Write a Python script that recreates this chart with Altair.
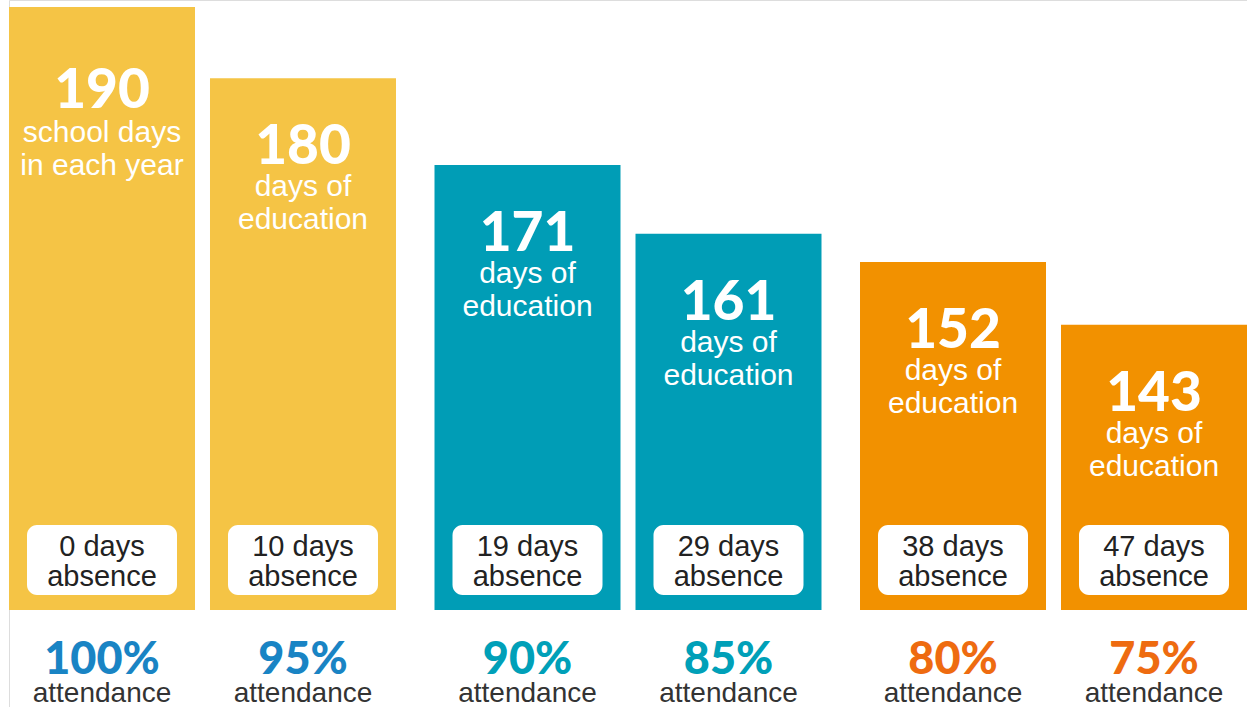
import altair as alt
import pandas as pd

# ---- data ----
days_of_education = [190, 180, 171, 161, 152, 143]
descriptions = ["school days\nin each year", "days of\neducation", "days of\neducation",
                "days of\neducation", "days of\neducation", "days of\neducation"]
absence_days = [0, 10, 19, 29, 38, 47]
attendance_pct = [100, 95, 90, 85, 80, 75]
# visual bar level (infographic bars are not proportional), % of tallest bar
bar_level = [100, 88.2, 73.8, 62.4, 57.7, 47.3]
band = ["high", "high", "mid", "mid", "low", "low"]
slot = ["a", "b", "a", "b", "a", "b"]

df = pd.DataFrame({
    "days": days_of_education,
    "desc": descriptions,
    "absence": [f"{a} days\nabsence" for a in absence_days],
    "pct": [f"{p}%" for p in attendance_pct],
    "level": bar_level,
    "band": band,
    "slot": slot,
})

band_order = ["high", "mid", "low"]
bar_colors = ["#F5C445", "#009DB6", "#F29100"]
pct_colors = ["#1984C4", "#00A0B8", "#EE6B10"]

NUM_FONT = "Lato"
TXT_FONT = "Liberation Sans"

x = alt.X("band:N", sort=band_order, axis=None,
          scale=alt.Scale(paddingInner=0.0905, paddingOuter=0))
xo = alt.XOffset("slot:N", scale=alt.Scale(paddingInner=0.0746, paddingOuter=0))
y = alt.Y("level:Q", axis=None, scale=alt.Scale(domain=[0, 100], range=[610, 7]))

base = alt.Chart(df).encode(x=x, xOffset=xo)

bars = base.mark_bar().encode(
    y=y,
    color=alt.Color("band:N", scale=alt.Scale(domain=band_order, range=bar_colors), legend=None),
)

boxes = base.mark_bar(width=150, cornerRadius=10, color="white").encode(
    y=alt.value(525), y2=alt.value(595)
)

num_first = base.transform_filter("datum.days == 190").mark_text(
    font=NUM_FONT, fontSize=55, fontWeight=900, color="white", baseline="alphabetic", dy=101
).encode(y=y, text="days:Q")
num_rest = base.transform_filter("datum.days != 190").mark_text(
    font=NUM_FONT, fontSize=55, fontWeight=900, color="white", baseline="alphabetic", dy=86
).encode(y=y, text="days:Q")

desc_first = base.transform_filter("datum.days == 190").mark_text(
    font=TXT_FONT, fontSize=30, color="white", baseline="alphabetic", dy=135,
    lineBreak="\n", lineHeight=33
).encode(y=y, text="desc:N")
desc_rest = base.transform_filter("datum.days != 190").mark_text(
    font=TXT_FONT, fontSize=30, color="white", baseline="alphabetic", dy=118,
    lineBreak="\n", lineHeight=33
).encode(y=y, text="desc:N")

absence = base.mark_text(
    font=TXT_FONT, fontSize=29, color="#222222", baseline="alphabetic",
    lineBreak="\n", lineHeight=30
).encode(y=alt.value(556), text="absence:N")

pct = base.mark_text(
    font=NUM_FONT, fontSize=45, fontWeight=900, baseline="alphabetic"
).encode(
    y=alt.value(674), text="pct:N",
    color=alt.Color("band:N", scale=alt.Scale(domain=band_order, range=pct_colors), legend=None),
)

att = base.mark_text(
    font=TXT_FONT, fontSize=28, color="#333333", baseline="alphabetic"
).encode(y=alt.value(702), text=alt.value("attendance"))

chart = alt.layer(
    bars, boxes, num_first, num_rest, desc_first, desc_rest, absence, pct, att
).resolve_scale(color="independent").properties(
    width=1238, height=707, autosize="none",
    padding={"left": 9, "right": 0, "top": 0, "bottom": 0},
).configure_view(stroke=None).configure(background="white")

chart.save("out.html", embed_options={"renderer": "svg", "actions": False})
